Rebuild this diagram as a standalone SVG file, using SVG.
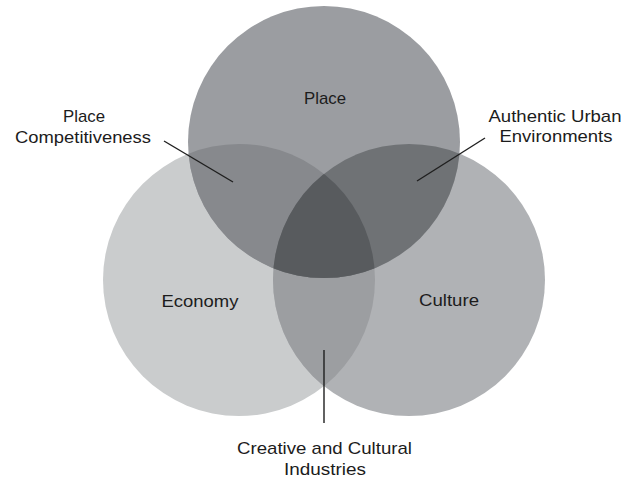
<svg xmlns="http://www.w3.org/2000/svg" width="624" height="478" viewBox="0 0 624 478">
  <style>
    .lbl { font-family: "Liberation Sans", Arial, sans-serif; font-size: 17px; fill: #1c1c1c; text-anchor: middle; }
    .lead { stroke: #1f1f1f; stroke-width: 1.4; fill: none; }
  </style>
  <defs>
    <clipPath id="cpPlace"><circle cx="324" cy="142" r="136"/></clipPath>
    <clipPath id="cpEcon"><circle cx="239" cy="280" r="136"/></clipPath>
    <clipPath id="cpCult"><circle cx="409" cy="280" r="136"/></clipPath>
  </defs>
  <rect width="624" height="478" fill="#ffffff"/>
  <g id="economy">
    <circle cx="239" cy="280" r="136" fill="#cacccd"/>
  </g>
  <g id="culture">
    <circle cx="409" cy="280" r="136" fill="#b0b2b5"/>
  </g>
  <g id="place">
    <circle cx="324" cy="142" r="136" fill="#9b9da1"/>
  </g>
  <g id="econ-culture" clip-path="url(#cpEcon)">
    <circle cx="409" cy="280" r="136" fill="#9c9ea1"/>
  </g>
  <g id="place-econ" clip-path="url(#cpPlace)">
    <circle cx="239" cy="280" r="136" fill="#87898d"/>
  </g>
  <g id="place-culture" clip-path="url(#cpPlace)">
    <circle cx="409" cy="280" r="136" fill="#6f7275"/>
  </g>
  <g id="center" clip-path="url(#cpPlace)">
    <g clip-path="url(#cpEcon)">
      <circle cx="409" cy="280" r="136" fill="#585b5e"/>
    </g>
  </g>
  <g id="connectors">
    <line class="lead" x1="164" y1="141" x2="233" y2="182"/>
    <line class="lead" x1="485" y1="138" x2="417" y2="181"/>
    <line class="lead" x1="324" y1="350" x2="324" y2="423"/>
  </g>
  <g id="labels">
    <text class="lbl" x="325" y="104" textLength="42" lengthAdjust="spacingAndGlyphs">Place</text>
    <text class="lbl" x="200" y="307" textLength="77" lengthAdjust="spacingAndGlyphs">Economy</text>
    <text class="lbl" x="449" y="306" textLength="60" lengthAdjust="spacingAndGlyphs">Culture</text>
    <text class="lbl" x="84" y="122" textLength="42" lengthAdjust="spacingAndGlyphs">Place</text>
    <text class="lbl" x="83" y="143" textLength="136" lengthAdjust="spacingAndGlyphs">Competitiveness</text>
    <text class="lbl" x="555" y="122" textLength="133" lengthAdjust="spacingAndGlyphs">Authentic Urban</text>
    <text class="lbl" x="556" y="142" textLength="113" lengthAdjust="spacingAndGlyphs">Environments</text>
    <text class="lbl" x="324.5" y="454" textLength="175" lengthAdjust="spacingAndGlyphs">Creative and Cultural</text>
    <text class="lbl" x="325" y="475" textLength="82" lengthAdjust="spacingAndGlyphs">Industries</text>
  </g>
</svg>
